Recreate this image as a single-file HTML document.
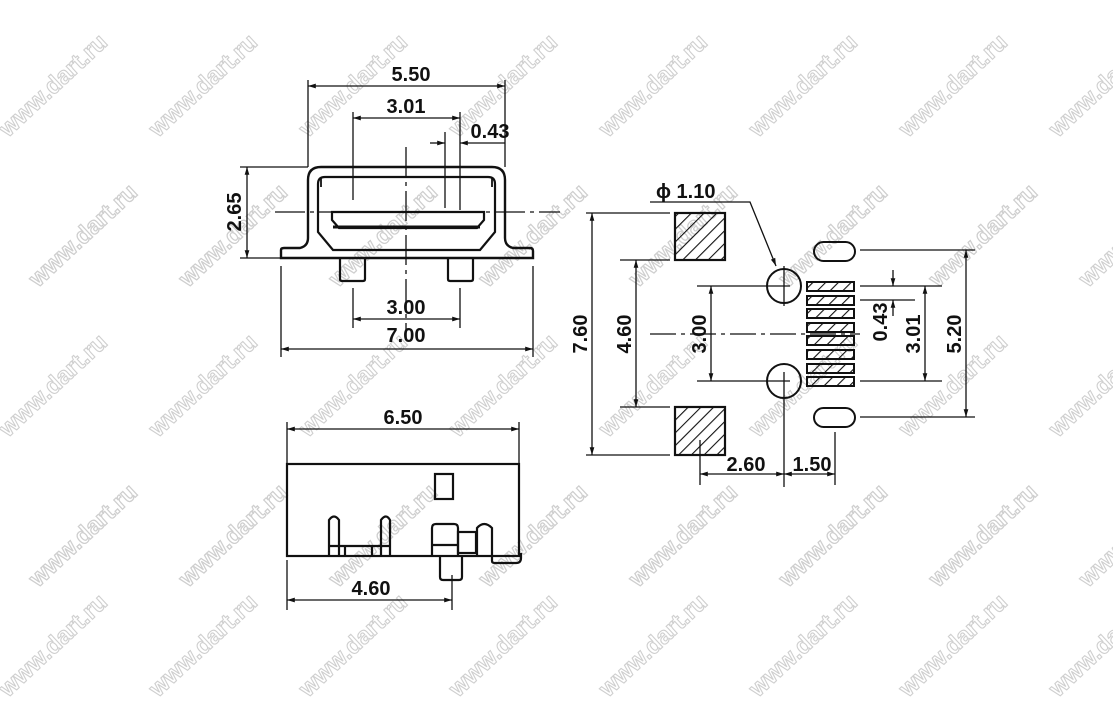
<!DOCTYPE html>
<html><head><meta charset="utf-8"><style>
html,body{margin:0;padding:0;background:#fff;width:1113px;height:701px;overflow:hidden;}
svg{display:block;overflow:hidden;}
.t{font-family:"Liberation Sans",sans-serif;font-weight:bold;font-size:20px;fill:#111;}
.wm{font-family:"Liberation Sans",sans-serif;font-weight:bold;font-size:24px;fill:none;stroke:#cfcfcf;stroke-width:1.1;}
</style></head><body>
<svg width="1113" height="701" viewBox="0 0 1113 701" xmlns="http://www.w3.org/2000/svg">
<defs>
<marker id="a" viewBox="0 0 10 10" refX="10" refY="5" markerWidth="7" markerHeight="6" orient="auto-start-reverse"><path d="M0,2 L10,5 L0,8 z" fill="#111"/></marker>
<pattern id="h" width="9" height="9" patternUnits="userSpaceOnUse" patternTransform="rotate(45)"><line x1="0" y1="0" x2="0" y2="9" stroke="#111" stroke-width="2.2"/></pattern>
<clipPath id="c"><rect x="0" y="0" width="1113" height="701"/></clipPath>
</defs>
<g clip-path="url(#c)">
<g id="wr0">
<text class="wm" transform="translate(8,138) rotate(-43)">www.dart.ru</text>
<text class="wm" transform="translate(158,138) rotate(-43)">www.dart.ru</text>
<text class="wm" transform="translate(308,138) rotate(-43)">www.dart.ru</text>
<text class="wm" transform="translate(458,138) rotate(-43)">www.dart.ru</text>
<text class="wm" transform="translate(608,138) rotate(-43)">www.dart.ru</text>
<text class="wm" transform="translate(758,138) rotate(-43)">www.dart.ru</text>
<text class="wm" transform="translate(908,138) rotate(-43)">www.dart.ru</text>
<text class="wm" transform="translate(1058,138) rotate(-43)">www.dart.ru</text>
</g>
<use href="#wr0" transform="translate(30,150)"/>
<use href="#wr0" transform="translate(0,300)"/>
<use href="#wr0" transform="translate(30,450)"/>
<use href="#wr0" transform="translate(0,560)"/>
<use href="#wr0" transform="translate(-120,150)"/>
<use href="#wr0" transform="translate(-120,450)"/>
</g>

<g stroke="#111" fill="none" stroke-width="1.3">
<line x1="308" y1="80" x2="308" y2="167"/>
<line x1="505" y1="80" x2="505" y2="167"/>
<line x1="308" y1="86" x2="505" y2="86" marker-start="url(#a)" marker-end="url(#a)"/>
<line x1="353" y1="112" x2="353" y2="200"/>
<line x1="460" y1="112" x2="460" y2="210"/>
<line x1="353" y1="118" x2="460" y2="118" marker-start="url(#a)" marker-end="url(#a)"/>
<line x1="445" y1="132" x2="445" y2="208"/>
<line x1="430" y1="143" x2="445" y2="143" marker-end="url(#a)"/>
<line x1="505" y1="143" x2="460" y2="143" marker-end="url(#a)"/>
<path stroke-width="2.4" d="M281,258 L281,250 Q281,248 284,248 L300,248 Q308,246 308,238 L308,180 Q308,167 321,167 L492,167 Q505,167 505,180 L505,238 Q505,246 513,248 L530,248 Q533,248 533,251 L533,258 Z"/>
<path stroke-width="2.2" d="M318,184 Q318,177 325,177 L488,177 Q495,177 495,184 L495,232 L480,250 L333,250 L318,232 Z"/>
<line x1="321" y1="178" x2="321" y2="187" stroke-width="1.8"/>
<line x1="492" y1="178" x2="492" y2="187" stroke-width="1.8"/>
<path stroke-width="2.2" d="M332,212 L484,212 L484,220 L477,228 L339,228 L332,220 Z"/>
<line x1="333" y1="227" x2="480" y2="227" stroke-width="3"/>
<path stroke-width="2.2" d="M340,258 L340,279 Q340,281 342,281 L363,281 Q365,281 365,279 L365,258"/>
<path stroke-width="2.2" d="M448,258 L448,279 Q448,281 450,281 L471,281 Q473,281 473,279 L473,258"/>
<line x1="406" y1="147" x2="406" y2="330" stroke-dasharray="30,5,4,5"/>
<line x1="275" y1="212" x2="560" y2="212" stroke-dasharray="30,5,4,5"/>
<line x1="240" y1="167" x2="308" y2="167"/>
<line x1="240" y1="258" x2="281" y2="258"/>
<line x1="247" y1="167" x2="247" y2="258" marker-start="url(#a)" marker-end="url(#a)"/>
<line x1="353" y1="288" x2="353" y2="328"/>
<line x1="460" y1="288" x2="460" y2="328"/>
<line x1="353" y1="319" x2="460" y2="319" marker-start="url(#a)" marker-end="url(#a)"/>
<line x1="281" y1="266" x2="281" y2="357"/>
<line x1="533" y1="266" x2="533" y2="357"/>
<line x1="281" y1="349" x2="533" y2="349" marker-start="url(#a)" marker-end="url(#a)"/>

<line x1="586" y1="213" x2="670" y2="213"/>
<line x1="586" y1="455" x2="670" y2="455"/>
<line x1="592" y1="213" x2="592" y2="455" marker-start="url(#a)" marker-end="url(#a)"/>
<rect x="675" y="213" width="50" height="47" fill="url(#h)" stroke-width="2.2"/>
<rect x="675" y="407" width="50" height="48" fill="url(#h)" stroke-width="2.2"/>
<line x1="620" y1="260" x2="670" y2="260"/>
<line x1="620" y1="407" x2="670" y2="407"/>
<line x1="636" y1="260" x2="636" y2="407" marker-start="url(#a)" marker-end="url(#a)"/>
<line x1="697" y1="286" x2="790" y2="286"/>
<line x1="697" y1="381" x2="790" y2="381"/>
<line x1="711" y1="286" x2="711" y2="381" marker-start="url(#a)" marker-end="url(#a)"/>
<line x1="650" y1="334" x2="860" y2="334" stroke-dasharray="26,5,4,5"/>
<circle cx="784" cy="286" r="17" stroke-width="2"/>
<circle cx="784" cy="381" r="17" stroke-width="2"/>
<line x1="784" y1="266" x2="784" y2="306"/>
<line x1="784" y1="372" x2="784" y2="487"/>
<g stroke-width="2">
<rect x="807" y="282" width="47" height="9" fill="url(#h)"/>
<rect x="807" y="296" width="47" height="9" fill="url(#h)"/>
<rect x="807" y="309" width="47" height="9" fill="url(#h)"/>
<rect x="807" y="323" width="47" height="9" fill="url(#h)"/>
<rect x="807" y="336" width="47" height="9" fill="url(#h)"/>
<rect x="807" y="350" width="47" height="9" fill="url(#h)"/>
<rect x="807" y="364" width="47" height="9" fill="url(#h)"/>
<rect x="807" y="377" width="47" height="9" fill="url(#h)"/>
</g>
<rect x="814" y="242" width="41" height="19" rx="9.5" stroke-width="2"/>
<rect x="814" y="408" width="41" height="19" rx="9.5" stroke-width="2"/>
<line x1="860" y1="250" x2="975" y2="250"/>
<line x1="860" y1="417" x2="975" y2="417"/>
<line x1="966" y1="250" x2="966" y2="417" marker-start="url(#a)" marker-end="url(#a)"/>
<line x1="860" y1="286" x2="942" y2="286"/>
<line x1="860" y1="381" x2="942" y2="381"/>
<line x1="925" y1="286" x2="925" y2="381" marker-start="url(#a)" marker-end="url(#a)"/>
<line x1="860" y1="300" x2="915" y2="300"/>
<line x1="893" y1="270" x2="893" y2="286" marker-end="url(#a)"/>
<line x1="893" y1="316" x2="893" y2="300" marker-end="url(#a)"/>
<polyline points="650,202 750,202 776,266" marker-end="url(#a)"/>
<line x1="700" y1="440" x2="700" y2="485"/>
<line x1="835" y1="432" x2="835" y2="485"/>
<line x1="700" y1="474" x2="784" y2="474" marker-start="url(#a)" marker-end="url(#a)"/>
<line x1="784" y1="474" x2="835" y2="474" marker-start="url(#a)" marker-end="url(#a)"/>

<line x1="287" y1="422" x2="287" y2="464"/>
<line x1="519" y1="422" x2="519" y2="464"/>
<line x1="287" y1="429" x2="519" y2="429" marker-start="url(#a)" marker-end="url(#a)"/>
<g stroke-width="2.2">
<rect x="287" y="464" width="232" height="92"/>
<rect x="435" y="474" width="18" height="25"/>
<path d="M329,556 L329,520 Q334,513 339,520 L339,556"/>
<path d="M381,556 L381,520 Q386,513 390,520 L390,556"/>
<line x1="329" y1="546" x2="390" y2="546"/>
<line x1="345" y1="546" x2="345" y2="556"/>
<line x1="372" y1="546" x2="372" y2="556"/>
<path d="M432,556 L432,528 Q432,524 436,524 L454,524 Q458,524 458,528 L458,556"/>
<line x1="432" y1="545" x2="458" y2="545"/>
<rect x="458" y="532" width="18" height="21"/>
<path d="M477,556 L477,528 Q484,520 492,528 L492,556"/>
<path d="M492,556 L492,561 Q492,563 495,563 L516,563 Q521,563 521,558 L521,553"/>
<path d="M440,556 L440,577 Q440,580 443,580 L459,580 Q462,580 462,577 L462,556"/>
</g>
<line x1="287" y1="560" x2="287" y2="610"/>
<line x1="452" y1="575" x2="452" y2="610"/>
<line x1="287" y1="600" x2="452" y2="600" marker-start="url(#a)" marker-end="url(#a)"/>
</g>

<text class="t" x="411" y="81" text-anchor="middle">5.50</text>
<text class="t" x="406" y="113" text-anchor="middle">3.01</text>
<text class="t" x="490" y="138" text-anchor="middle">0.43</text>
<text class="t" transform="translate(241,212) rotate(-90)" text-anchor="middle">2.65</text>
<text class="t" x="406" y="314" text-anchor="middle">3.00</text>
<text class="t" x="406" y="342" text-anchor="middle">7.00</text>
<text class="t" x="403" y="424" text-anchor="middle">6.50</text>
<text class="t" x="371" y="595" text-anchor="middle">4.60</text>
<text class="t" x="656" y="198">ϕ 1.10</text>
<text class="t" transform="translate(587,334) rotate(-90)" text-anchor="middle">7.60</text>
<text class="t" transform="translate(631,334) rotate(-90)" text-anchor="middle">4.60</text>
<text class="t" transform="translate(706,334) rotate(-90)" text-anchor="middle">3.00</text>
<text class="t" transform="translate(887,322) rotate(-90)" text-anchor="middle">0.43</text>
<text class="t" transform="translate(920,334) rotate(-90)" text-anchor="middle">3.01</text>
<text class="t" transform="translate(961,334) rotate(-90)" text-anchor="middle">5.20</text>
<text class="t" x="746" y="471" text-anchor="middle">2.60</text>
<text class="t" x="812" y="471" text-anchor="middle">1.50</text>
</svg>
</body></html>
